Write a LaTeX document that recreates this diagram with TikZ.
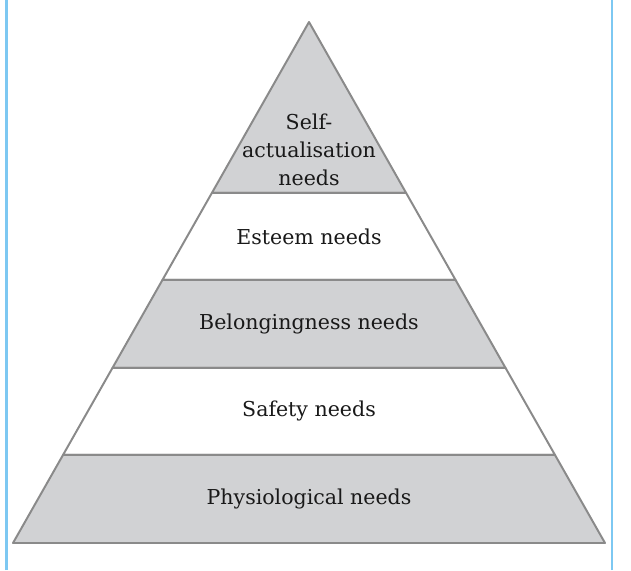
\documentclass[tikz,border=0pt]{standalone}
\usepackage{fontspec}
\setmainfont{DejaVu Serif}
\usetikzlibrary{calc}
\definecolor{bandgray}{RGB}{209,210,212}
\definecolor{edgegray}{RGB}{138,138,138}
\definecolor{frameblue}{RGB}{125,200,242}

\begin{document}
\begin{tikzpicture}[
  band/.style={draw=edgegray, line width=1.4pt, line join=round},
  needtext/.style={font=\fontsize{14.6}{20}\selectfont, align=center, text=black!90}
]
  \useasboundingbox (0,0) rectangle (15.775,14.25);
  \draw[frameblue, line width=1.8pt] (0.1625,0) -- (0.1625,14.25);
  \draw[frameblue, line width=1.8pt] (15.3,0) -- (15.3,14.25);

  \coordinate (apex) at (7.725,13.7);
  \coordinate (bl) at (0.325,0.675);
  \coordinate (br) at (15.125,0.675);

  % band edges along the two sides
  \foreach \n/\t in {1/0.328, 2/0.495, 3/0.664, 4/0.831, 5/1} {
    \coordinate (l\n) at ($(apex)!\t!(bl)$);
    \coordinate (r\n) at ($(apex)!\t!(br)$);
  }

  \draw[band, fill=bandgray] (apex) -- (r1) -- (l1) -- cycle;
  \draw[band, fill=white] (l1) -- (r1) -- (r2) -- (l2) -- cycle;
  \draw[band, fill=bandgray] (l2) -- (r2) -- (r3) -- (l3) -- cycle;
  \draw[band, fill=white] (l3) -- (r3) -- (r4) -- (l4) -- cycle;
  \draw[band, fill=bandgray] (l4) -- (r4) -- (r5) -- (l5) -- cycle;

  \node[needtext] (selfact) at (7.725,10.5) {Self-\\actualisation\\needs};
  \node[needtext] (esteem) at (7.725,8.325) {Esteem needs};
  \node[needtext] (belong) at (7.725,6.15) {Belongingness needs};
  \node[needtext] (safety) at (7.725,3.975) {Safety needs};
  \node[needtext] (physio) at (7.725,1.775) {Physiological needs};
\end{tikzpicture}
\end{document}
